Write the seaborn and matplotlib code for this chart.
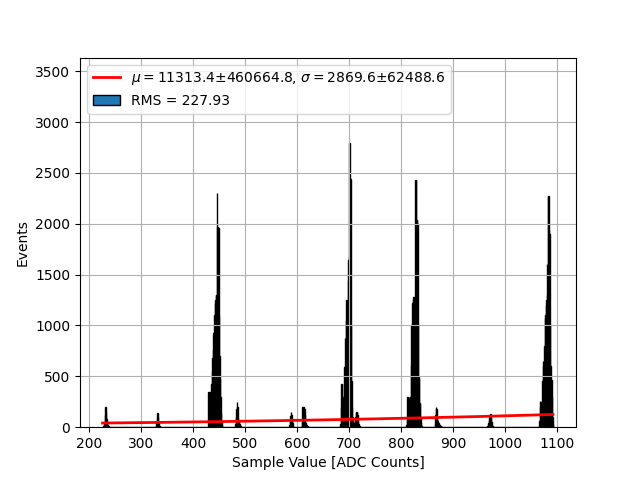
import numpy as np
import pandas as pd
import matplotlib
matplotlib.use("Agg")
import matplotlib.pyplot as plt
import matplotlib.patches as mpatches
from matplotlib.ticker import MultipleLocator
import seaborn as sns

# --- data (1 ADC wide bins: first bin + counts) ---
peak_230_start = 227
peak_230_counts = [10, 20, 30, 120, 202, 150, 80, 40, 25, 15, 10, 6, 4]

peak_330_start = 328
peak_330_counts = [15, 40, 90, 137, 100, 50, 25, 12, 6]

peak_445_start = 429
peak_445_counts = [343, 300, 343, 200, 150, 250, 420, 550, 680, 760, 930, 850,
                   1100, 1220, 1250, 1300, 1300, 2300, 1970, 1960, 1100, 700,
                   470, 300, 140, 60, 20]

peak_485_start = 481
peak_485_counts = [30, 100, 180, 251, 200, 90, 60, 40, 30, 20, 12, 6]

peak_590_start = 585
peak_590_counts = [20, 60, 110, 146, 120, 80, 40, 15, 6, 3]

peak_612_start = 609
peak_612_counts = [50, 196, 195, 196, 190, 180, 120, 40, 25, 20, 15, 10, 5, 3]

peak_700_start = 683
peak_700_counts = [30, 200, 425, 425, 300, 240, 150, 300, 595, 880, 600, 1050,
                   1250, 1230, 1447, 1640, 1676, 2795, 2440, 2440, 1000, 450,
                   200, 100, 60]

peak_715_start = 708
peak_715_counts = [40, 20, 30, 60, 100, 140, 152, 150, 120, 60, 30, 20, 10, 6, 4]

peak_828_start = 810
peak_828_counts = [20, 80, 300, 300, 250, 300, 150, 120, 300, 600, 1000, 1218,
                   1250, 1283, 1280, 1283, 1200, 2430, 2430, 2037, 2037, 2000,
                   1000, 490, 480, 237, 230, 100, 40, 15]

peak_868_start = 865
peak_868_counts = [30, 120, 195, 180, 100, 60, 40, 30, 25, 20, 15, 10, 5, 3]

peak_972_start = 966
peak_972_counts = [10, 20, 40, 70, 100, 130, 90, 50, 25, 15, 8, 4]

peak_1083_start = 1066
peak_1083_counts = [60, 260, 200, 100, 250, 450, 650, 600, 650, 800, 1070, 1100,
                    1200, 1250, 1600, 1300, 2270, 2270, 1940, 1900, 1000, 600,
                    450, 460, 300, 100, 30]

# gaussian fit curve
fit_x = [226, 350, 450, 550, 650, 750, 850, 950, 1092]
fit_y = [41, 48, 55, 63, 72, 82, 93, 105, 125]

fit_label = r"$\mu = 11313.4$±460664.8, $\sigma = 2869.6$±62488.6"
rms_label = "RMS = 227.93"

clusters = [
    (peak_230_start, peak_230_counts), (peak_330_start, peak_330_counts),
    (peak_445_start, peak_445_counts), (peak_485_start, peak_485_counts),
    (peak_590_start, peak_590_counts), (peak_612_start, peak_612_counts),
    (peak_700_start, peak_700_counts), (peak_715_start, peak_715_counts),
    (peak_828_start, peak_828_counts), (peak_868_start, peak_868_counts),
    (peak_972_start, peak_972_counts), (peak_1083_start, peak_1083_counts),
]

rows = []
for start, counts in clusters:
    for i, c in enumerate(counts):
        rows.append((start + i + 0.5, c))
df = pd.DataFrame(rows, columns=["adc", "events"])
edges = list(range(226, 1094))

fig, ax = plt.subplots(figsize=(6.4, 4.8), dpi=100)

sns.histplot(data=df, x="adc", weights="events", bins=edges, color="tab:blue",
             edgecolor="black", linewidth=1, alpha=1, ax=ax)
sns.lineplot(x=fit_x, y=fit_y, color="red", linewidth=2, ax=ax)

max_count = df.groupby(np.floor(df["adc"]))["events"].sum().max()
ax.set_ylim(0, max_count * 1.3)
ax.xaxis.set_major_locator(MultipleLocator(100))

ax.set_xlabel("Sample Value [ADC Counts]")
ax.set_ylabel("Events")
ax.grid(True)

handles = [ax.lines[0], mpatches.Patch(facecolor="tab:blue", edgecolor="black")]
ax.legend(handles, [fit_label, rms_label], loc="upper left")

fig.savefig("out.png", dpi=100)
